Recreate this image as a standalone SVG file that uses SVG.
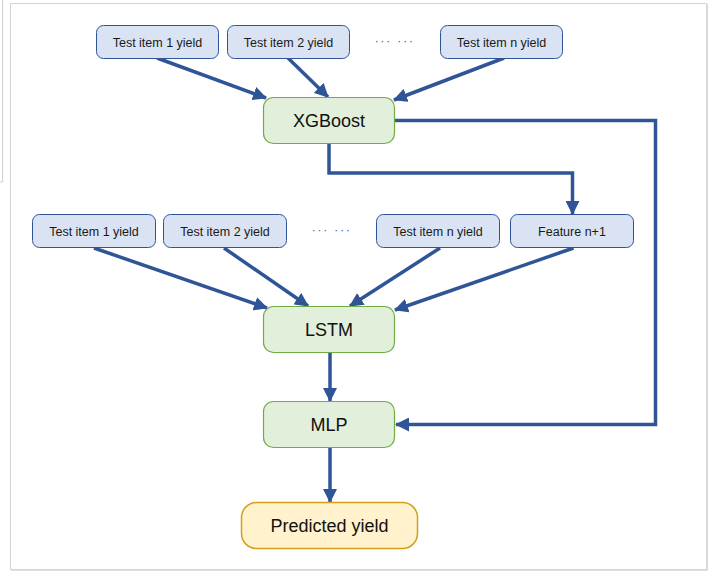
<svg xmlns="http://www.w3.org/2000/svg" width="713" height="571" viewBox="0 0 713 571">
<style>
.in rect{fill:#dae3f3;stroke:#2f5597;stroke-width:1}
.in text{font-family:"Liberation Sans",Arial,sans-serif;font-size:12.5px;fill:#1a1a1a;text-anchor:middle}
.mdl rect{fill:#e2efda;stroke:#70ad47;stroke-width:1.2}
.mdl text{font-family:"Liberation Sans",Arial,sans-serif;font-size:18px;fill:#111;text-anchor:middle}
.out rect{fill:#fff2cc;stroke:#d4a017;stroke-width:1.5}
.out text{font-family:"Liberation Sans",Arial,sans-serif;font-size:18px;fill:#111;text-anchor:middle}
.dots{font-family:"Liberation Sans",Arial,sans-serif;font-size:13px;fill:#4472c4;text-anchor:middle;letter-spacing:1.5px}
#connectors path,#connectors line{fill:none;stroke:#2f5597;stroke-width:3.5;marker-end:url(#arr)}
</style>
<defs>
<marker id="arr" markerUnits="userSpaceOnUse" markerWidth="14" markerHeight="14" viewBox="0 0 14 14" refX="13" refY="7" orient="auto">
<path d="M0,0 L14,7 L0,14 z" fill="#2f5597"/>
</marker>
</defs>
<rect width="713" height="571" fill="#fff"/>
<g id="frame" fill="none">
<polyline points="2.5,0 2.5,182 0,182" stroke="#d0d0d0" stroke-width="1"/>
<rect x="10.5" y="3.5" width="696" height="566" stroke="#d3d3d3" stroke-width="1"/>
<line x1="707.5" y1="4" x2="707.5" y2="570" stroke="#e0e0e0" stroke-width="1.5"/>
<line x1="11" y1="570.5" x2="708" y2="570.5" stroke="#e0e0e0" stroke-width="1.5"/>
</g>
<g id="connectors">
<line x1="157" y1="58" x2="266" y2="98"/>
<line x1="288" y1="58" x2="328" y2="97"/>
<line x1="504" y1="58" x2="394" y2="100"/>
<path d="M329,143 V173 H572.5 V214"/>
<path d="M394,120.5 H655.5 V424.5 H396"/>
<line x1="94" y1="248" x2="267" y2="308"/>
<line x1="224" y1="248" x2="308" y2="306"/>
<line x1="440" y1="248" x2="350" y2="306"/>
<line x1="573.5" y1="248" x2="395" y2="310"/>
<line x1="330" y1="352" x2="330" y2="401"/>
<line x1="330" y1="448" x2="330" y2="502"/>
</g>
<g id="in1" class="in"><rect x="96.5" y="25.5" width="122" height="33" rx="7"/><text x="157.5" y="46.5">Test item 1 yield</text></g>
<g id="in2" class="in"><rect x="227.5" y="25.5" width="122" height="33" rx="7"/><text x="288.5" y="46.5">Test item 2 yield</text></g>
<text class="dots" x="394.5" y="44.5">··· ···</text>
<g id="inn" class="in"><rect x="440.5" y="25.5" width="122" height="33" rx="7"/><text x="501.5" y="46.5">Test item n yield</text></g>
<g id="xgboost" class="mdl"><rect x="263.5" y="97.5" width="131" height="46" rx="10"/><text x="329" y="127">XGBoost</text></g>
<g id="in1b" class="in"><rect x="32.5" y="214.5" width="123" height="33" rx="7"/><text x="94" y="235.5">Test item 1 yield</text></g>
<g id="in2b" class="in"><rect x="163.5" y="214.5" width="123" height="33" rx="7"/><text x="225" y="235.5">Test item 2 yield</text></g>
<text class="dots" x="331.5" y="233.5">··· ···</text>
<g id="innb" class="in"><rect x="376.5" y="214.5" width="123" height="33" rx="7"/><text x="438" y="235.5">Test item n yield</text></g>
<g id="feat" class="in"><rect x="510.5" y="214.5" width="123" height="33" rx="7"/><text x="572" y="235.5">Feature n+1</text></g>
<g id="lstm" class="mdl"><rect x="263.5" y="306.5" width="131" height="46" rx="10"/><text x="329" y="336">LSTM</text></g>
<g id="mlp" class="mdl"><rect x="263.5" y="401.5" width="131" height="46" rx="10"/><text x="329" y="431">MLP</text></g>
<g id="pred" class="out"><rect x="241.5" y="502.5" width="176" height="46" rx="15"/><text x="329.5" y="532">Predicted yield</text></g>
</svg>
